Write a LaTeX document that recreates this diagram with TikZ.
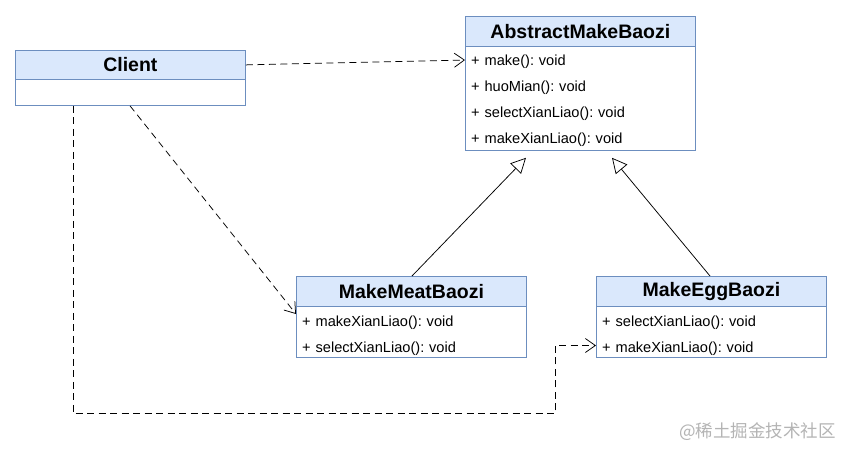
\documentclass[tikz,border=0pt]{standalone}
\usepackage{fontspec}
\setmainfont{Liberation Sans}
\newfontfamily\cjk{Noto Sans CJK SC}
\usetikzlibrary{arrows.meta,calc}
\definecolor{umlfill}{HTML}{DAE8FC}
\definecolor{umlborder}{HTML}{6C8EBF}
\definecolor{wmark}{HTML}{B4B4B4}
\frenchspacing
\begin{document}
\begin{tikzpicture}[x=1pt,y=-1pt,
  header/.style={draw=umlborder, fill=umlfill, minimum width=230pt, minimum height=30pt,
    anchor=north west, inner sep=0pt, line width=0.8pt,
    font=\bfseries\fontsize{19.5}{22}\selectfont},
  bodybox/.style={draw=umlborder, fill=white, minimum width=230pt, anchor=north west,
    inner sep=0pt, line width=0.8pt},
  rowtext/.style={anchor=west, text width=220pt, inner xsep=6pt, inner ysep=0pt,
    yshift=-1.5pt, align=left, font=\fontsize{14.6}{17}\selectfont},
  dep/.style={draw=black, line width=0.75pt, dash pattern=on 7pt off 4.5pt,
    -{Straight Barb[length=10pt,width=14pt,line width=0.75pt]}},
  gen/.style={draw=black, line width=0.75pt,
    -{Triangle[open,length=15pt,width=15pt,fill=white,line width=0.75pt]}}
]
\useasboundingbox[fill=white] (0,0) rectangle (841,448);

% AbstractMakeBaozi
\node[bodybox, minimum height=104pt] (absbody) at (465,46) {};
\node[header] (abshead) at (465,16) {AbstractMakeBaozi};
\node[rowtext] (absr1) at (465,60) {+ make(): void};
\node[rowtext] (absr2) at (465,86) {+ huoMian(): void};
\node[rowtext] (absr3) at (465,112) {+ selectXianLiao(): void};
\node[rowtext] (absr4) at (465,138) {+ makeXianLiao(): void};

% Client
\node[bodybox, minimum height=26pt] (clientbody) at (15,79) {};
\node[header, minimum height=29pt] (clienthead) at (15,50) {Client};

% MakeMeatBaozi
\node[bodybox, minimum height=51pt] (meatbody) at (296,306) {};
\node[header] (meathead) at (296,276) {MakeMeatBaozi};
\node[rowtext] (meatr1) at (296,321) {+ makeXianLiao(): void};
\node[rowtext] (meatr2) at (296,347) {+ selectXianLiao(): void};

% MakeEggBaozi
\node[bodybox, minimum height=51pt] (eggbody) at (596,306) {};
\node[header] (egghead) at (596,276) {MakeEggBaozi};
\node[rowtext] (eggr1) at (596,321) {+ selectXianLiao(): void};
\node[rowtext] (eggr2) at (596,347) {+ makeXianLiao(): void};

% dependencies
\draw[dep] (clienthead.east) -- ($(absr1.west)+(0,-1.5)$);
\draw[dep] ($(clientbody.south west)+(115,0)$) -- ($(meatbody.north west)+(0,8)$);
\draw[dep] ($(clientbody.south west)+(58,0)$) |- ($(clientbody.south west)+(540,308)$)
  -- ($(eggr2.west)+(-41,-3)$) -- ($(eggr2.west)+(0,-3)$);

% generalisations
\draw[gen] ($(meathead.north west)+(116,0)$) -- ($(absbody.south west)+(61,7)$);
\draw[gen] ($(egghead.north west)+(114,0)$) -- ($(absbody.south west)+(147,7)$);

% watermark
\node[anchor=east, inner sep=0pt, text=wmark, font=\cjk\fontsize{17.5}{19}\selectfont] (wm) at (836,432) {@稀土掘金技术社区};
\end{tikzpicture}
\end{document}
